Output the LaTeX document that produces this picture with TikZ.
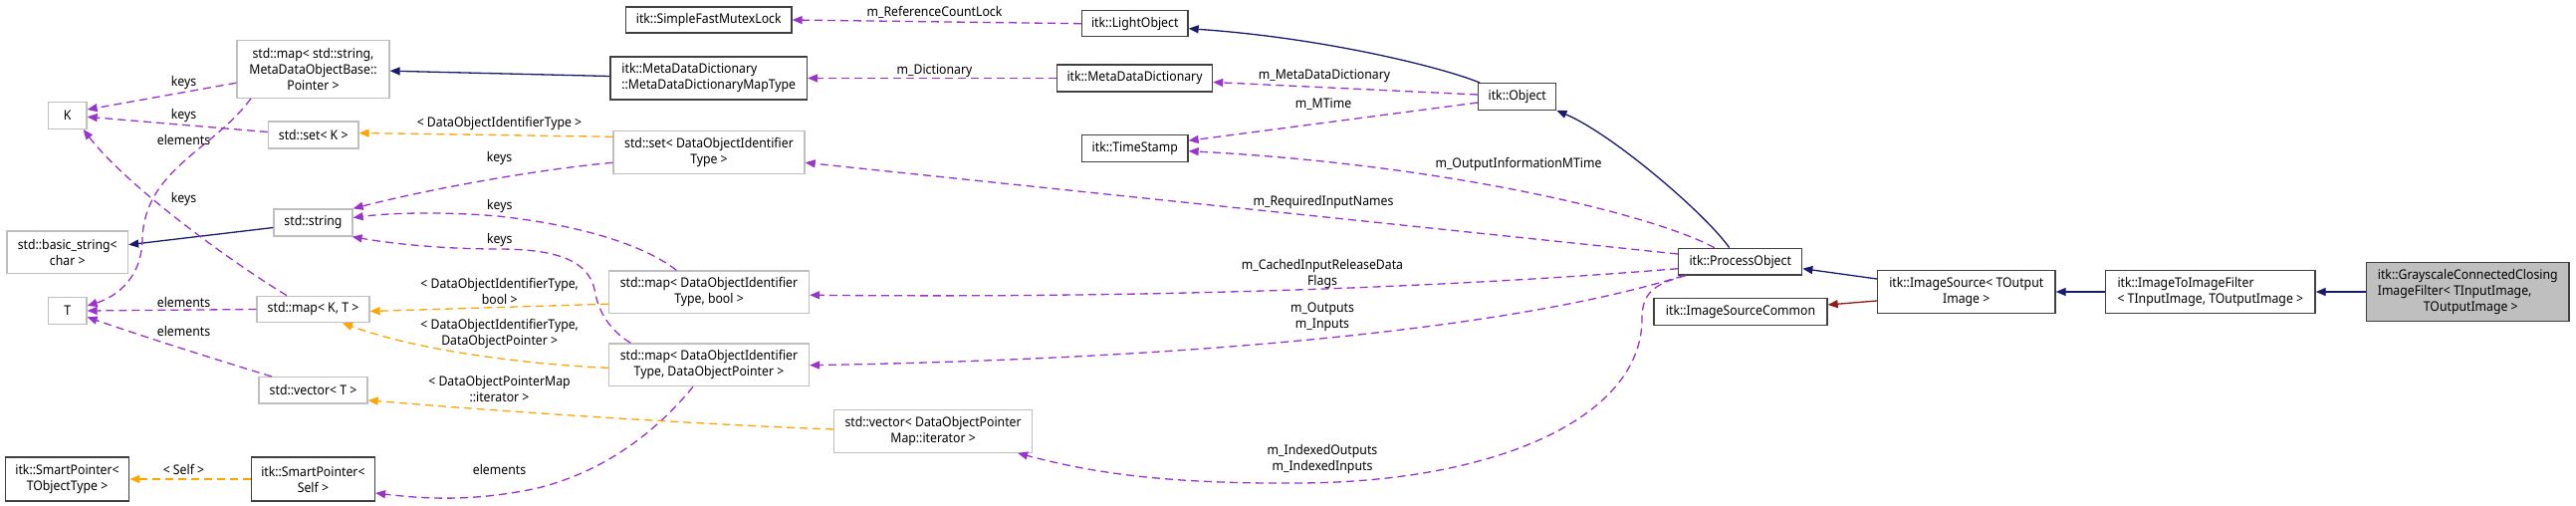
\documentclass[tikz,border=0pt]{standalone}
\usepackage{fontspec}
\setmainfont{Noto Sans}[FakeStretch=0.92]
\usetikzlibrary{arrows.meta,calc}
\definecolor{navy}{HTML}{191970}
\definecolor{orchid}{HTML}{9A32CD}
\definecolor{orng}{HTML}{FFA500}
\definecolor{fbrick}{HTML}{8B1A1A}
\definecolor{gbord}{HTML}{BFBFBF}
\definecolor{dbord}{HTML}{404040}
\tikzset{
  basebox/.style={rectangle, inner sep=2pt, font=\fontsize{13.33}{16}\selectfont, line width=1.3pt, fill=white},
  docbox/.style={basebox, draw=dbord},
  extbox/.style={basebox, draw=gbord},
  curbox/.style={basebox, draw=dbord, fill=gbord},
  tip/.style={-{Triangle[length=10pt,width=8pt]}},
  inh/.style={draw=navy, line width=1.3pt, tip},
  priv/.style={draw=fbrick, line width=1.3pt, tip},
  useedge/.style={draw=orchid, line width=1.3pt, dash pattern=on 8pt off 5pt, tip},
  tmpl/.style={draw=orng, line width=1.3pt, dash pattern=on 8pt off 5pt, tip},
  lbl/.style={inner sep=0pt, align=center, font=\fontsize{13.33}{16}\selectfont}
}
\begin{document}
\begin{tikzpicture}[x=1pt,y=-1pt]
\useasboundingbox[fill=white] (0,0) rectangle (2587,508);
% nodes
\node[docbox, minimum width=166.5pt, minimum height=26pt] (sfml) at (711.75,20) {itk::SimpleFastMutexLock};
\node[docbox, minimum width=106.5pt, minimum height=26pt] (light) at (1139.75,23.7) {itk::LightObject};
\node[extbox, minimum width=153pt, minimum height=58pt, align=center] (mapstr) at (314.5,69.2) {std::map< std::string,\\MetaDataObjectBase::\\Pointer >};
\node[docbox, minimum width=197.5pt, minimum height=43pt, align=left] (mddmt) at (711.75,78.5) {itk::MetaDataDictionary\\::MetaDataDictionaryMapType};
\node[docbox, minimum width=156pt, minimum height=27pt] (mdd) at (1139.55,78.5) {itk::MetaDataDictionary};
\node[docbox, minimum width=78pt, minimum height=26.6pt] (object) at (1523.75,97) {itk::Object};
\node[extbox, minimum width=38.5pt, minimum height=26.6pt] (K) at (67.75,116) {K};
\node[extbox, minimum width=90.6pt, minimum height=27pt] (setK) at (314.7,135.5) {std::set< K >};
\node[extbox, minimum width=192pt, minimum height=42.6pt, align=center] (setDOIT) at (712,153) {std::set< DataObjectIdentifier\\Type >};
\node[docbox, minimum width=106.5pt, minimum height=27pt] (ts) at (1139.75,149.2) {itk::TimeStamp};
\node[extbox, minimum width=79pt, minimum height=27pt] (string) at (314.5,223.5) {std::string};
\node[extbox, minimum width=121.5pt, minimum height=42.3pt, align=center] (bstr) at (67.75,253.2) {std::basic\_string<\\char >};
\node[docbox, minimum width=124pt, minimum height=26.7pt] (po) at (1747.7,262.7) {itk::ProcessObject};
\node[extbox, minimum width=201pt, minimum height=42.3pt, align=center] (mapbool) at (712,293.2) {std::map< DataObjectIdentifier\\Type, bool >};
\node[docbox, minimum width=174pt, minimum height=27.4pt] (isc) at (1748,313) {itk::ImageSourceCommon};
\node[docbox, minimum width=178.5pt, minimum height=43.4pt, align=center] (is) at (1974.75,293) {itk::ImageSource< TOutput\\Image >};
\node[docbox, minimum width=210.4pt, minimum height=43.4pt, align=left] (i2i) at (2219.8,293) {itk::ImageToImageFilter\\< TInputImage, TOutputImage >};
\node[curbox, minimum width=203.5pt, minimum height=59.4pt, align=left] (gray) at (2478.25,293) {itk::GrayscaleConnectedClosing\\ImageFilter< TInputImage,\\\hspace*{46pt}TOutputImage >};
\node[extbox, minimum width=38.5pt, minimum height=26.6pt] (T) at (67.75,312) {T};
\node[extbox, minimum width=113pt, minimum height=26.4pt] (mapKT) at (314.5,310.5) {std::map< K, T >};
\node[extbox, minimum width=201pt, minimum height=42.7pt, align=center] (mapdop) at (712,366.3) {std::map< DataObjectIdentifier\\Type, DataObjectPointer >};
\node[extbox, minimum width=109pt, minimum height=26.3pt] (vecT) at (314.5,391.8) {std::vector< T >};
\node[extbox, minimum width=198.6pt, minimum height=42.6pt, align=center] (vecit) at (937.1,433) {std::vector< DataObjectPointer\\Map::iterator >};
\node[docbox, minimum width=124.3pt, minimum height=44pt, align=center] (spT) at (67.55,481) {itk::SmartPointer<\\TObjectType >};
\node[docbox, minimum width=124pt, minimum height=44pt, align=center] (spS) at (314.4,481) {itk::SmartPointer<\\Self >};
% inheritance
\draw[inh] (gray.west) -- (i2i.east);
\draw[inh] (i2i.west) -- (is.east);
\draw[inh] ($(is.west)+(0,-13)$) -- ($(po.east)+(0,7)$);
\draw[priv] ($(is.west)+(0,9)$) -- ($(isc.east)+(0,-7)$);
\draw[inh] ($(po.north)+(-11,0)$) .. controls (1713,215) and (1620,135) .. (object.south east);
\draw[inh] ($(object.north west)+(2,0)$) .. controls (1450,68) and (1330,38) .. ($(light.east)+(0,5)$);
\draw[inh] ($(mddmt.west)+(0,-2)$) -- ($(mapstr.east)+(0,2)$);
\draw[inh] ($(string.west)+(0,5)$) -- ($(bstr.east)+(0,-7.5)$);
% usage
\draw[useedge] (light.west) -- (sfml.east);
\draw[useedge] ($(object.west)+(0,-2)$) -- ($(mdd.east)+(0,4)$);
\draw[useedge] ($(object.west)+(0,6)$) -- ($(ts.east)+(0,-8)$);
\draw[useedge] ($(po.north)+(-26,0)$) .. controls (1660,215) and (1450,165) .. ($(ts.east)+(0,2.5)$);
\draw[useedge] (mdd.west) -- (mddmt.east);
\draw[useedge] ($(po.west)+(0,-7.7)$) -- ($(setDOIT.east)+(0,10.3)$);
\draw[useedge] ($(po.west)+(0,7)$) .. controls (1500,285) and (1200,300) .. ($(mapbool.east)+(0,3)$);
\draw[useedge] ($(po.south west)+(6,0)$) .. controls (1520,330) and (1200,360) .. ($(mapdop.east)+(0,0.4)$);
\draw[useedge] ($(po.south west)+(8,0)$) .. controls (1660,285) and (1649,295) .. (1649,320) .. controls (1649,420) and (1500,485) .. (1300,485) .. controls (1150,486) and (1080,470) .. ($(vecit.south east)+(-15,0)$);
\draw[useedge] ($(setDOIT.west)+(0,10.3)$) .. controls (540,170) and (430,190) .. (string.north east);
\draw[useedge] ($(mapbool.north west)+(68.5,0)$) .. controls (655,252) and (600,228) .. (500,217) .. controls (440,212) and (390,214) .. ($(string.east)+(0,-5)$);
\draw[useedge] ($(mapdop.north west)+(22.5,0)$) .. controls (610,330) and (600,310) .. (597,290) .. controls (590,262) and (560,250) .. (500,250) .. controls (440,250) and (390,244) .. ($(string.south east)+(-1,0)$);
\draw[useedge] ($(mapdop.south)+(-16,0)$) .. controls (670,420) and (620,470) .. (540,490) .. controls (470,505) and (420,500) .. ($(spS.east)+(0,14)$);
\draw[useedge] (mapKT.west) -- (T.east);
\draw[useedge] ($(vecT.north west)+(13.6,0)$) .. controls (230,365) and (150,340) .. ($(T.east)+(0,6.3)$);
\draw[useedge] ($(mapKT.north)+(-26.5,0)$) .. controls (240,268) and (130,190) .. ($(K.south east)+(-4,0)$);
\draw[useedge] ($(mapstr.west)+(0,14)$) -- ($(K.east)+(0,-6)$);
\draw[useedge] ($(setK.west)+(0,-3)$) -- ($(K.east)+(0,1.3)$);
\draw[useedge] ($(mapstr.south)+(-62.5,0)$) .. controls (215,150) and (145,170) .. (143,240) .. controls (142,285) and (110,300) .. ($(T.east)+(0,-5)$);
% template instances
\draw[tmpl] ($(setDOIT.west)+(0,-15.7)$) -- ($(setK.east)+(0,-2)$);
\draw[tmpl] ($(mapbool.west)+(0,12)$) -- ($(mapKT.east)+(0,2)$);
\draw[tmpl] ($(mapdop.west)+(0,3)$) .. controls (530,366) and (420,352) .. ($(mapKT.south east)+(-27.7,0)$);
\draw[tmpl] ($(vecit.west)+(0,-2)$) .. controls (700,426) and (500,413) .. ($(vecT.east)+(0,10)$);
\draw[tmpl] (spS.west) -- (spT.east);
% labels
\node[lbl] (lrcl) at (938.5,12.7) {m\_ReferenceCountLock};
\node[lbl] (lmdd) at (1330,76) {m\_MetaDataDictionary};
\node[lbl] (lmt) at (1329,105) {m\_MTime};
\node[lbl] (loim) at (1525,164.7) {m\_OutputInformationMTime};
\node[lbl] (ldict) at (938.5,70.7) {m\_Dictionary};
\node[lbl] (lrin) at (1329,202.7) {m\_RequiredInputNames};
\node[lbl] (lcir) at (1328,275.2) {m\_CachedInputReleaseData\\Flags};
\node[lbl] (loi) at (1328,318.7) {m\_Outputs\\m\_Inputs};
\node[lbl] (lidx) at (1328,460.7) {m\_IndexedOutputs\\m\_IndexedInputs};
\node[lbl] (ldoit) at (501.5,124.3) {< DataObjectIdentifierType >};
\node[lbl] (lk1) at (501.5,159.3) {keys};
\node[lbl] (lk2) at (501.7,207.3) {keys};
\node[lbl] (lk3) at (501.7,240.7) {keys};
\node[lbl] (lbool) at (501.7,292.5) {< DataObjectIdentifierType,\\bool >};
\node[lbl] (ldop) at (501.7,334.7) {< DataObjectIdentifierType,\\DataObjectPointer >};
\node[lbl] (lit) at (501.5,390.5) {< DataObjectPointerMap\\::iterator >};
\node[lbl] (lel1) at (501.5,471.7) {elements};
\node[lbl] (lself) at (184.5,471.7) {< Self >};
\node[lbl] (lel2) at (184.5,303.3) {elements};
\node[lbl] (lel3) at (184.5,332.3) {elements};
\node[lbl] (lk4) at (184.5,200) {keys};
\node[lbl] (lk5) at (184.5,82.7) {keys};
\node[lbl] (lk6) at (184.5,115.7) {keys};
\node[lbl] (lel4) at (184.5,140.7) {elements};
\end{tikzpicture}
\end{document}
